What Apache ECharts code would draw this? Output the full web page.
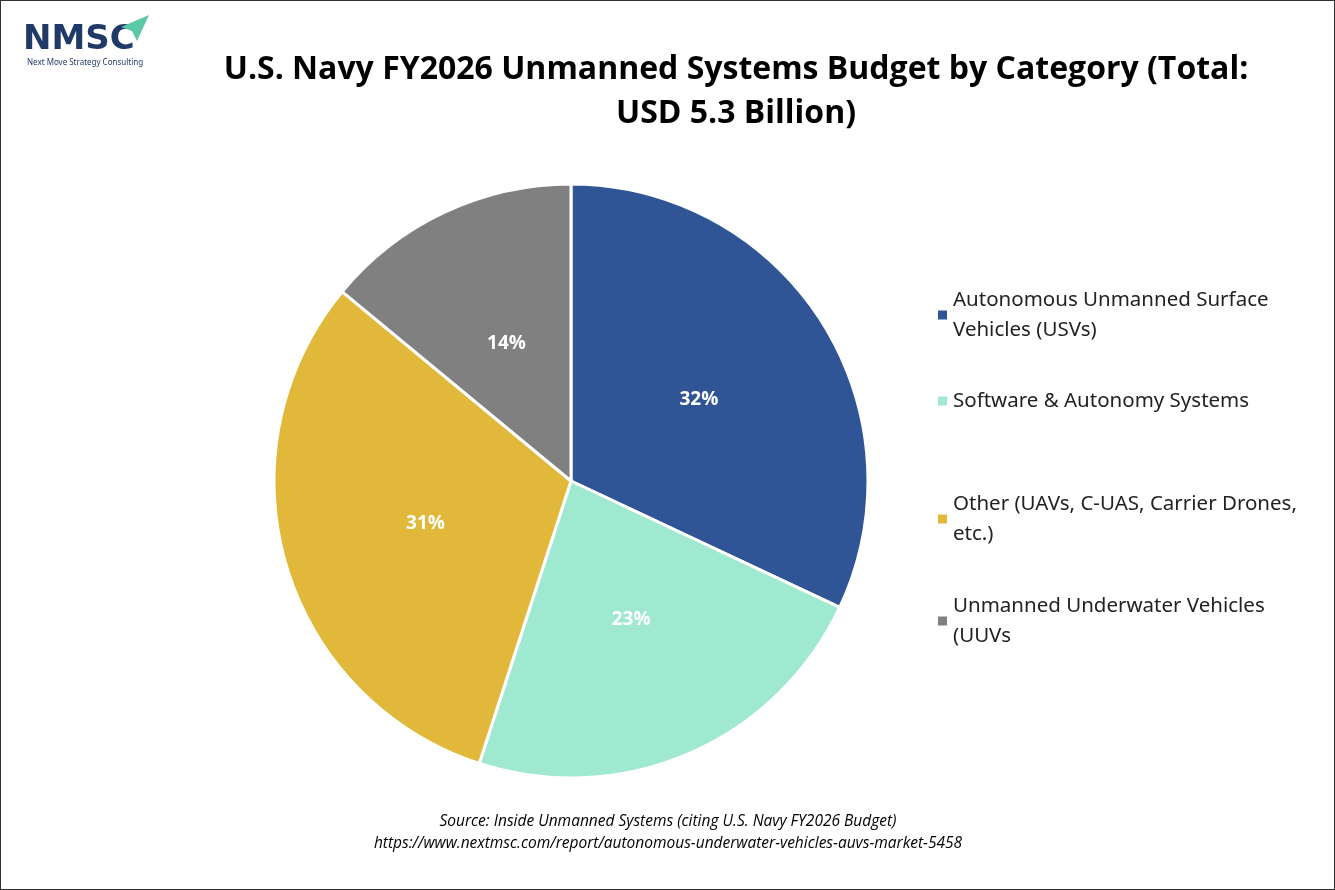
<!DOCTYPE html>
<html>
<head>
<meta charset="utf-8">
<script src="https://cdn.jsdelivr.net/npm/echarts@6/dist/echarts.min.js"></script>
<style>
  html, body { margin: 0; padding: 0; background: #fff; }
  #chart { width: 1333px; height: 888px; border: 1px solid #333; }
</style>
</head>
<body>
<div id="chart"></div>
<script>
var categories = [
  'Autonomous Unmanned Surface\nVehicles (USVs)',
  'Software & Autonomy Systems',
  'Other (UAVs, C-UAS, Carrier Drones,\netc.)',
  'Unmanned Underwater Vehicles\n(UUVs'
];
var shares = [32, 23, 31, 14];
var colors = ['#2F5597', '#A0E9D1', '#E2B83B', '#808080'];
var legendTops = [279, 380, 483, 585];

var myChart = echarts.init(document.getElementById('chart'));

var option = {
  title: {
    text: 'U.S. Navy FY2026 Unmanned Systems Budget by Category (Total:\nUSD 5.3 Billion)',
    left: 730,
    top: 42,
    textAlign: 'center',
    textStyle: { fontFamily: 'Open Sans', fontSize: 32, fontWeight: 'bold', color: '#000', lineHeight: 44 }
  },
  legend: categories.map(function (c, i) {
    return {
      orient: 'vertical',
      left: 930,
      top: legendTops[i],
      itemWidth: 11,
      itemHeight: 11,
      icon: 'rect',
      textStyle: { fontFamily: 'Noto Sans', fontSize: 20.5, color: '#222', lineHeight: 30 },
      data: [c]
    };
  }),
  series: [{
    type: 'pie',
    center: [570, 480],
    radius: 297,
    startAngle: 90,
    clockwise: true,
    itemStyle: { borderColor: '#fff', borderWidth: 3 },
    label: {
      position: 'inside',
      formatter: '{c}%',
      color: '#fff',
      fontFamily: 'Open Sans',
      fontWeight: 'bold',
      fontSize: 19
    },
    labelLine: { show: false },
    data: categories.map(function (c, i) {
      return { name: c, value: shares[i], itemStyle: { color: colors[i] } };
    })
  }],
  graphic: [
    { type: 'text', left: 22, top: 22, style: { text: 'NMSC', fontFamily: 'DejaVu Sans', fontWeight: 'bold', fontSize: 34, fill: '#1F3A68' } },
    { type: 'polygon', shape: { points: [[120, 26], [148, 14], [136, 40], [131, 30]] }, style: { fill: '#5BC8A8' } },
    { type: 'text', left: 26, top: 58, style: { text: 'Next Move Strategy Consulting', fontFamily: 'Noto Sans', fontSize: 8, fill: '#1F3A68' } },
    { type: 'text', x: 667, y: 810, style: { text: 'Source: Inside Unmanned Systems (citing U.S. Navy FY2026 Budget)\nhttps://www.nextmsc.com/report/autonomous-underwater-vehicles-auvs-market-5458', align: 'center', fontFamily: 'Open Sans', fontStyle: 'italic', fontSize: 15.5, lineHeight: 22, fill: '#000' } }
  ]
};

myChart.setOption(option);
</script>
</body>
</html>
